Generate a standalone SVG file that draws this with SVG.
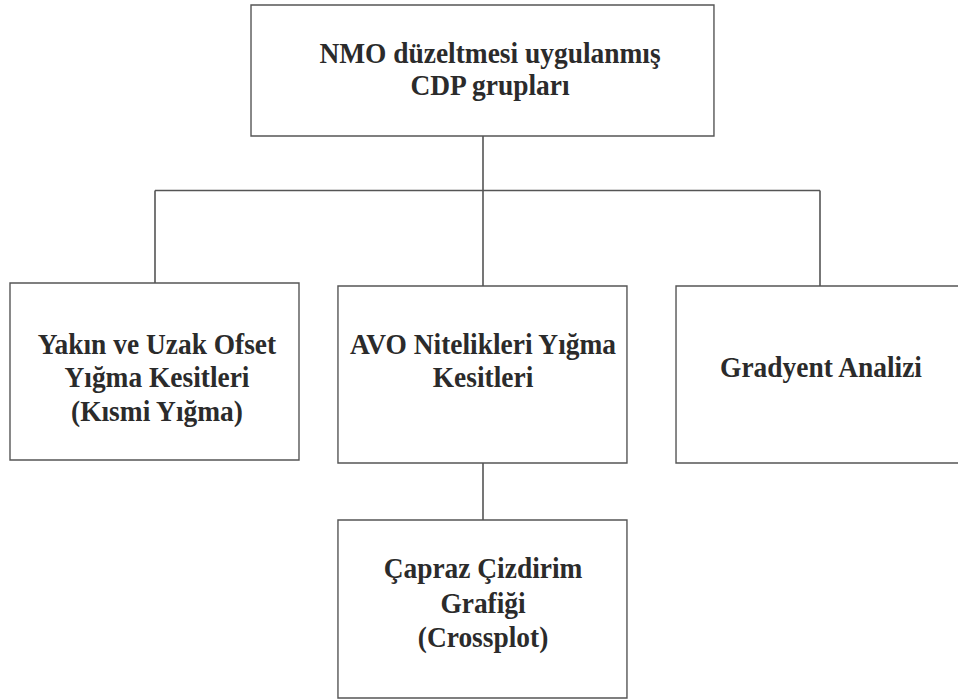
<svg xmlns="http://www.w3.org/2000/svg" width="958" height="700" viewBox="0 0 958 700">
<style>
.box{fill:#fff;stroke:#555;stroke-width:1.6}
.ln{fill:none;stroke:#555;stroke-width:1.6}
text{font-family:"Liberation Serif","Times New Roman",serif;font-weight:bold;font-size:29.5px;fill:#2b2b2b;text-anchor:middle}
.sx{transform:scale(0.93,1)}
</style>
<rect width="958" height="700" fill="#fff"/>
<g id="connectors">
<path class="ln" d="M483 136V286M155 190.5H820M155 190.5V283M820 190.5V286M483 463V520"/>
</g>
<g id="n-top" class="sx">
<rect class="box" x="269.9" y="5" width="497.8" height="131" style="stroke-width:1.5"/>
<text x="526.9" y="63">NMO düzeltmesi uygulanmış</text>
<text x="526.9" y="95">CDP grupları</text>
</g>
<g id="n-left" class="sx">
<rect class="box" x="10.75" y="283" width="310.75" height="177" style="stroke-width:1.5"/>
<text x="168.8" y="354">Yakın ve Uzak Ofset</text>
<text x="168.8" y="387">Yığma Kesitleri</text>
<text x="168.8" y="421">(Kısmi Yığma)</text>
</g>
<g id="n-mid" class="sx">
<rect class="box" x="363.4" y="286" width="310.75" height="177" style="stroke-width:1.5"/>
<text x="519.4" y="354">AVO Nitelikleri Yığma</text>
<text x="519.4" y="387">Kesitleri</text>
</g>
<g id="n-right" class="sx">
<rect class="box" x="726.9" y="286" width="311.8" height="177" style="stroke-width:1.5"/>
<text x="882.8" y="377">Gradyent Analizi</text>
</g>
<g id="n-bottom" class="sx">
<rect class="box" x="363.4" y="520" width="310.75" height="178" style="stroke-width:1.5"/>
<text x="519.4" y="578">Çapraz Çizdirim</text>
<text x="519.4" y="613">Grafiği</text>
<text x="519.4" y="647">(Crossplot)</text>
</g>
</svg>
